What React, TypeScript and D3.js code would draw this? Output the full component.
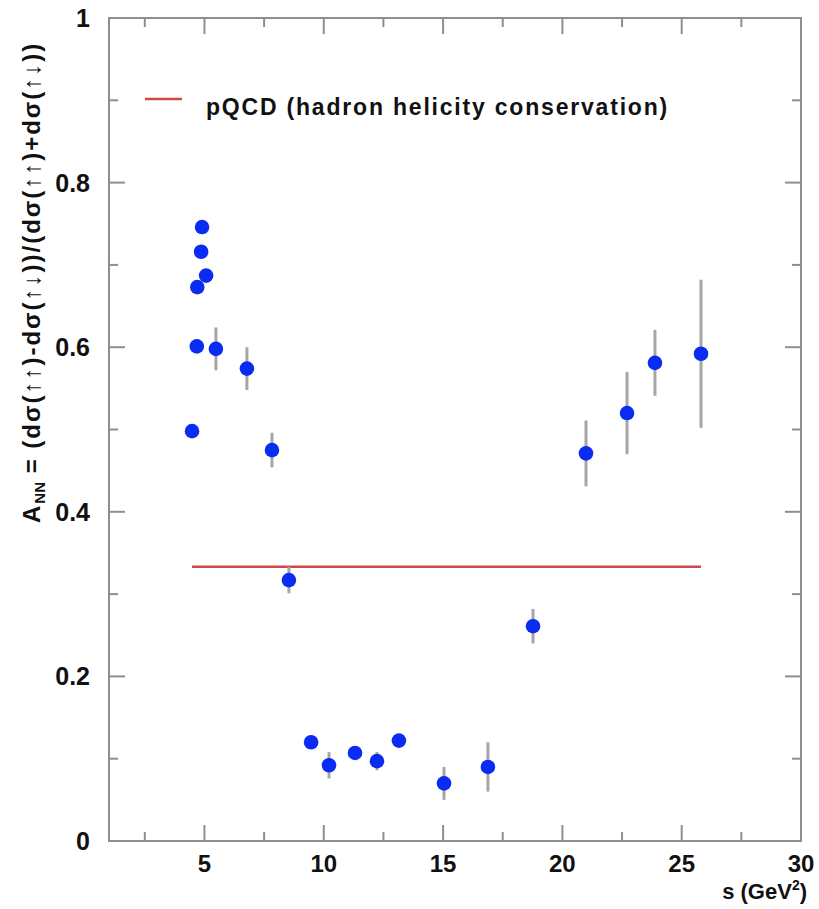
import React from "react";
import * as d3 from "d3";

// Spin asymmetry A_NN versus s for pp elastic scattering at 90° c.m.
const sValues = [4.48, 4.68, 4.7, 4.86, 4.9, 5.07, 5.48, 6.78, 7.83, 8.54, 9.47, 10.22, 11.31, 12.23, 13.15, 15.04, 16.88, 18.77, 20.99, 22.71, 23.88, 25.81];
const annValues = [0.498, 0.601, 0.673, 0.716, 0.746, 0.687, 0.598, 0.574, 0.475, 0.317, 0.12, 0.092, 0.107, 0.097, 0.122, 0.07, 0.09, 0.261, 0.471, 0.52, 0.581, 0.592];
const annErrors = [0, 0, 0, 0, 0, 0, 0.026, 0.026, 0.021, 0.016, 0.006, 0.016, 0.008, 0.011, 0.008, 0.02, 0.03, 0.021, 0.04, 0.05, 0.04, 0.09];

// pQCD prediction (hadron helicity conservation): constant 1/3
const pqcdValue = 1 / 3;
const pqcdRange = [4.48, 25.81];
const legendLabel = "pQCD (hadron helicity conservation)";

const xMajorTicks = [5, 10, 15, 20, 25, 30];
const xMinorTicks = [2.5, 7.5, 12.5, 17.5, 22.5, 27.5];
const yMajorTicks = [0, 0.2, 0.4, 0.6, 0.8, 1];
const yMinorTicks = [0.1, 0.3, 0.5, 0.7, 0.9];

const W = 819;
const H = 909;
const left = 109;
const right = 801;
const top = 18;
const bottom = 841;

const frameColor = "#8e8e8e";
const blue = "#0a2cf2";
const red = "#d24848";
const font = "'Liberation Sans', Arial, Helvetica, sans-serif";

export default function App() {
  const x = d3.scaleLinear().domain([1, 30]).range([left, right]);
  const y = d3.scaleLinear().domain([0, 1]).range([bottom, top]);
  const yFmt = (v: number) => (v === 0 || v === 1 ? String(v) : d3.format(".1f")(v));

  const majorLen = 16;
  const minorLen = 9;

  const points = sValues.map((s, i) => ({ s, a: annValues[i], e: annErrors[i] }));

  return (
    <svg width={W} height={H} style={{ position: "absolute", left: 0, top: 0, background: "#fff" }}>
      <rect x={0} y={0} width={W} height={H} fill="#fff" />
      {/* frame */}
      <rect x={left} y={top} width={right - left} height={bottom - top} fill="none" stroke={frameColor} strokeWidth={2} />
      {/* x ticks on bottom and top */}
      {xMajorTicks.map((t) => (
        <g key={"xM" + t}>
          <line x1={x(t)} x2={x(t)} y1={bottom} y2={bottom - majorLen} stroke={frameColor} strokeWidth={2} />
          <line x1={x(t)} x2={x(t)} y1={top} y2={top + majorLen} stroke={frameColor} strokeWidth={2} />
        </g>
      ))}
      {xMinorTicks.map((t) => (
        <g key={"xm" + t}>
          <line x1={x(t)} x2={x(t)} y1={bottom} y2={bottom - minorLen} stroke={frameColor} strokeWidth={2} />
          <line x1={x(t)} x2={x(t)} y1={top} y2={top + minorLen} stroke={frameColor} strokeWidth={2} />
        </g>
      ))}
      {/* y ticks on left and right */}
      {yMajorTicks.map((t) => (
        <g key={"yM" + t}>
          <line x1={left} x2={left + majorLen} y1={y(t)} y2={y(t)} stroke={frameColor} strokeWidth={2} />
          <line x1={right} x2={right - majorLen} y1={y(t)} y2={y(t)} stroke={frameColor} strokeWidth={2} />
        </g>
      ))}
      {yMinorTicks.map((t) => (
        <g key={"ym" + t}>
          <line x1={left} x2={left + minorLen} y1={y(t)} y2={y(t)} stroke={frameColor} strokeWidth={2} />
          <line x1={right} x2={right - minorLen} y1={y(t)} y2={y(t)} stroke={frameColor} strokeWidth={2} />
        </g>
      ))}
      {/* tick labels */}
      {xMajorTicks.map((t) => (
        <text key={"xl" + t} x={x(t)} y={872} textAnchor="middle" fontFamily={font} fontWeight="bold" fontSize={24} fill="#111">
          {t}
        </text>
      ))}
      {yMajorTicks.map((t) => (
        <text key={"yl" + t} x={90} y={y(t) + 9} textAnchor="end" fontFamily={font} fontWeight="bold" fontSize={25} fill="#111">
          {yFmt(t)}
        </text>
      ))}
      {/* axis titles */}
      <text x={807} y={899} textAnchor="end" fontFamily={font} fontWeight="bold" fontSize={22} fill="#111">
        s (GeV<tspan dy={-9} fontSize={14}>2</tspan>
        <tspan dy={9}>)</tspan>
      </text>
      <text
        transform={`translate(40, 523) rotate(-90)`}
        x={0}
        y={0}
        textAnchor="start"
        fontFamily={font}
        fontWeight="bold"
        fontSize={24}
        letterSpacing={2}
        fill="#111"
      >
        A<tspan dy={5} fontSize={15} letterSpacing={0}>NN</tspan>
        <tspan dy={-5}> = (dσ(↑↑)-dσ(↑↓))/(dσ(↑↑)+dσ(↑↓))</tspan>
      </text>
      {/* pQCD prediction */}
      <line x1={x(pqcdRange[0])} x2={x(pqcdRange[1])} y1={y(pqcdValue)} y2={y(pqcdValue)} stroke={red} strokeWidth={2.5} />
      {/* error bars */}
      {points
        .filter((p) => p.e > 0)
        .map((p, i) => (
          <line key={"e" + i} x1={x(p.s)} x2={x(p.s)} y1={y(p.a - p.e)} y2={y(p.a + p.e)} stroke="#a6a6a6" strokeWidth={3} />
        ))}
      {/* data points */}
      {points.map((p, i) => (
        <circle key={"p" + i} cx={x(p.s)} cy={y(p.a)} r={7.3} fill={blue} />
      ))}
      {/* legend */}
      <line x1={145} x2={182} y1={99} y2={99} stroke={red} strokeWidth={2.5} />
      <text x={206} y={115} fontFamily={font} fontWeight="bold" fontSize={23} letterSpacing={1.8} fill="#111">
        {legendLabel}
      </text>
    </svg>
  );
}
